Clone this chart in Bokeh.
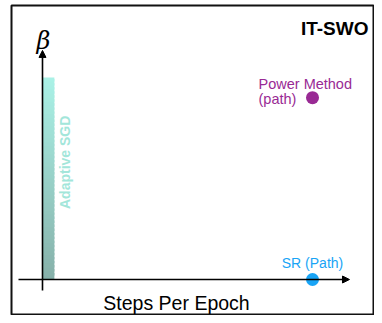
from bokeh.plotting import figure
from bokeh.models import Range1d, Arrow, NormalHead, Label
from bokeh.embed import file_html
from bokeh.resources import INLINE

# ---- data (schematic) ----
sgd_name = "Adaptive SGD"
sgd_steps = [0.0]
sgd_width = [0.44]
sgd_beta = [1.0]

power_name = ["Power Method", "(path)"]
power_steps = [10.0]
power_beta = [0.9]

sr_name = "SR (Path)"
sr_steps = [10.0]
sr_beta = [0.0]

x_label = "Steps Per Epoch"
y_label = "β"
title = "IT-SWO"

# ---- figure ----
p = figure(width=374, height=315, output_backend="svg", toolbar_location=None,
           x_range=Range1d(-1.148, 12.296), y_range=Range1d(-0.1782, 1.3564),
           min_border_left=11, min_border_right=0, min_border_top=5, min_border_bottom=0)
p.axis.visible = False
p.grid.visible = False
p.outline_line_color = "#111111"
p.outline_line_width = 2
p.background_fill_color = "white"
p.border_fill_color = "white"

# gradient bar for Adaptive SGD (stacked slices, colour is styling only)
def lerp(c1, c2, t):
    a = [int(c1[i:i+2], 16) for i in (1, 3, 5)]
    b = [int(c2[i:i+2], 16) for i in (1, 3, 5)]
    return "#%02x%02x%02x" % tuple(round(a[k] + (b[k] - a[k]) * t) for k in range(3))

n = 50
bottom_c, top_c = "#86b0a9", "#aaf2e7"
h = sgd_beta[0]
lefts, rights, bots, tops, cols = [], [], [], [], []
for i in range(n):
    lefts.append(sgd_steps[0])
    rights.append(sgd_steps[0] + sgd_width[0])
    bots.append(h * i / n)
    tops.append(min(h, h * (i + 1.6) / n))
    cols.append(lerp(bottom_c, top_c, (i + 0.5) / n))
p.quad(left=lefts, right=rights, bottom=bots, top=tops, fill_color=cols, line_color=None)

# axes as arrows
head_kw = dict(size=7, fill_color="black", line_color="black", line_width=1)
p.add_layout(Arrow(end=NormalHead(**head_kw), x_start=-0.889, y_start=0, x_end=11.37, y_end=0,
                   line_width=1.6, line_color="black"))
p.add_layout(Arrow(end=NormalHead(**head_kw), x_start=0, y_start=-0.054, x_end=0, y_end=1.134,
                   line_width=1.6, line_color="black"))

# points
p.scatter(x=power_steps, y=power_beta, size=13, fill_color="#992a94", line_color=None)
p.scatter(x=sr_steps, y=sr_beta, size=13, fill_color="#18a4f6", line_color=None)

font = "Liberation Sans"
# labels
p.add_layout(Label(x=sgd_steps[0] + sgd_width[0], y=0.58 * sgd_beta[0], text=sgd_name, angle=90,
                   angle_units="deg", x_offset=19, text_align="center", text_baseline="bottom",
                   text_font=font, text_font_style="bold", text_font_size="14px",
                   text_color="#a3e6da"))
p.add_layout(Label(x=power_steps[0], y=power_beta[0], text=power_name[0], x_offset=-54, y_offset=14,
                   text_font=font, text_font_size="14.5px", text_color="#992a94",
                   text_baseline="alphabetic"))
p.add_layout(Label(x=power_steps[0], y=power_beta[0], text=power_name[1], x_offset=-54, y_offset=-1,
                   text_font=font, text_font_size="14.5px", text_color="#992a94",
                   text_baseline="alphabetic"))
p.add_layout(Label(x=sr_steps[0], y=sr_beta[0], text=sr_name, y_offset=17, text_align="center",
                   text_font=font, text_font_size="14px", text_color="#18a4f6",
                   text_baseline="alphabetic"))
p.add_layout(Label(x=165, y=13, x_units="screen", y_units="screen", text=x_label,
                   text_align="center", text_baseline="alphabetic",
                   text_font=font, text_font_size="19.5px", text_color="black"))
p.add_layout(Label(x=32, y=275, x_units="screen", y_units="screen", text=y_label,
                   text_align="center", text_baseline="alphabetic",
                   text_font="DejaVu Serif", text_font_style="italic", text_font_size="24px",
                   text_color="black"))
p.add_layout(Label(x=357, y=287, x_units="screen", y_units="screen", text=title,
                   text_align="right", text_baseline="alphabetic",
                   text_font=font, text_font_style="bold", text_font_size="19px",
                   text_color="black"))

open("out.html", "w").write(file_html(p, INLINE))
